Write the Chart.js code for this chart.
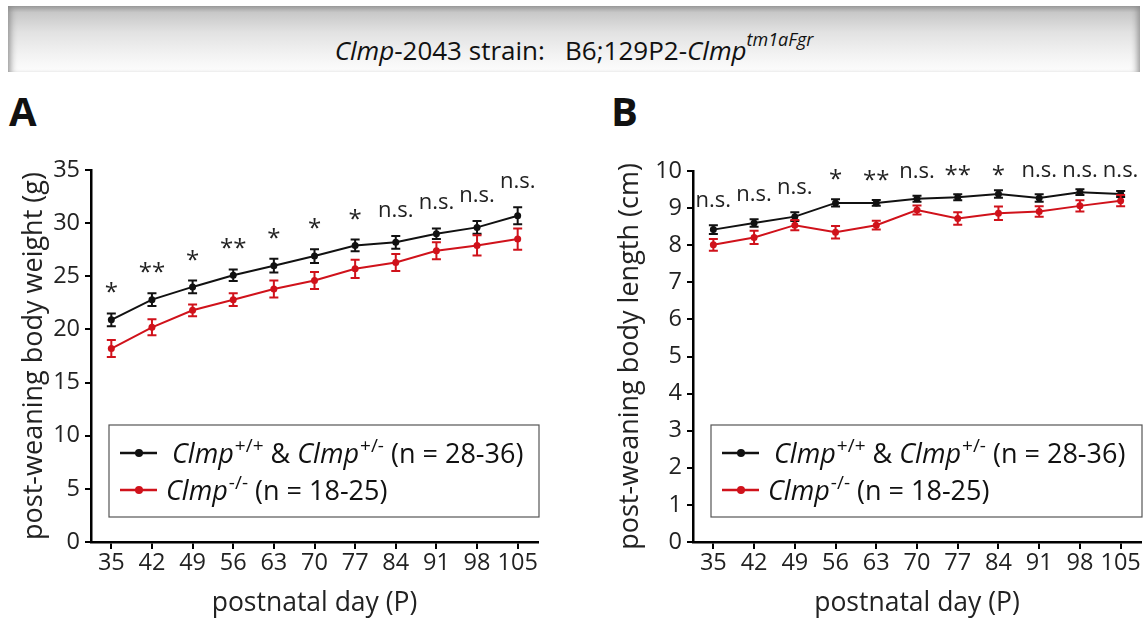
<!DOCTYPE html>
<html>
<head>
<meta charset="utf-8">
<script src="https://cdn.jsdelivr.net/npm/chart.js@4.4.1/dist/chart.umd.min.js"></script>
<style>
html,body{margin:0;padding:0;background:#fff;}
body{width:1148px;height:619px;position:relative;overflow:hidden;font-family:'Open Sans',sans-serif;color:#111;}
#hdr{position:absolute;left:8px;top:6px;width:1132px;height:66px;
 background:linear-gradient(to bottom,#9c9c9c 0%,#c8c8c8 10%,#e2e2e2 40%,#f3f3f3 75%,#fdfdfd 100%);
 box-shadow: inset 7px 0 7px -5px #8a8a8a, inset -7px 0 7px -5px #8a8a8a;}
#hdr .t{position:absolute;left:0;right:0;top:22px;text-align:center;font-size:26px;line-height:30px;}
#hdr sup{font-size:18px;position:relative;top:-4px;}
.panel{position:absolute;top:0;width:574px;height:619px;}
.letter{position:absolute;font-weight:bold;font-size:40px;line-height:40px;color:#111;}
</style>
</head>
<body>
<div id="hdr"><div class="t"><i>Clmp</i>-2043 strain:&nbsp;&nbsp; B6;129P2-<i>Clmp<sup>tm1aFgr</sup></i></div></div>
<div class="letter" style="left:9px;top:91px;">A</div>
<div class="letter" style="left:611px;top:91px;">B</div>
<div class="panel" style="left:0;"><canvas id="cA" width="574" height="619"></canvas></div>
<div class="panel" style="left:574px;"><canvas id="cB" width="574" height="619"></canvas></div>
<script>
// ---- data ----
const days = ['35','42','49','56','63','70','77','84','91','98','105'];
const weightCtrl    = [20.9, 22.8, 24.0, 25.1, 26.0, 26.9, 27.9, 28.2, 29.0, 29.6, 30.7];
const weightCtrlErr = [0.6, 0.6, 0.6, 0.55, 0.65, 0.65, 0.55, 0.6, 0.5, 0.6, 0.8];
const weightKO      = [18.2, 20.2, 21.8, 22.8, 23.8, 24.6, 25.7, 26.3, 27.4, 27.9, 28.5];
const weightKOErr   = [0.8, 0.75, 0.55, 0.6, 0.8, 0.8, 0.85, 0.8, 0.8, 0.95, 1.0];
const lengthCtrl    = [8.42, 8.6, 8.77, 9.14, 9.14, 9.25, 9.29, 9.38, 9.27, 9.43, 9.38];
const lengthCtrlErr = [0.12, 0.1, 0.12, 0.1, 0.08, 0.08, 0.08, 0.1, 0.1, 0.08, 0.08];
const lengthKO      = [8.01, 8.21, 8.54, 8.35, 8.54, 8.95, 8.72, 8.86, 8.91, 9.06, 9.2];
const lengthKOErr   = [0.16, 0.18, 0.14, 0.17, 0.12, 0.12, 0.17, 0.18, 0.14, 0.15, 0.15];
const sigWeight = ['*','**','*','**','*','*','*','n.s.','n.s.','n.s.','n.s.'];
const sigLength = ['n.s.','n.s.','n.s.','*','**','n.s.','**','*','n.s.','n.s.','n.s.'];
const legendCtrl = [{t:'Clmp',i:1},{t:'+/+',s:1},{t:' & '},{t:'Clmp',i:1},{t:'+/-',s:1},{t:' (n = 28-36)'}];
const legendKO   = [{t:'Clmp',i:1},{t:'-/-',s:1},{t:' (n = 18-25)'}];
const colCtrl = '#111111';
const colKO = '#d0121b';

const FONT = "'Open Sans', sans-serif";

function drawRich(ctx, segs, x, y, size, supSize){
  ctx.textBaseline = 'alphabetic'; ctx.textAlign = 'left';
  segs.forEach(s => {
    ctx.font = (s.i?'italic ':'') + (s.s?supSize:size) + 'px ' + FONT;
    ctx.fillText(s.t, x, s.s ? y - 11 : y);
    x += ctx.measureText(s.t).width + (s.i ? 1 : 0);
  });
}

const errPlugin = {
  id: 'errbars',
  afterDatasetsDraw(chart){
    const ctx = chart.ctx, y = chart.scales.y;
    chart.data.datasets.forEach((ds, di) => {
      const meta = chart.getDatasetMeta(di);
      ctx.save();
      ctx.strokeStyle = ds.borderColor; ctx.lineWidth = 2;
      ds.data.forEach((v, i) => {
        const e = ds.errors[i], x = meta.data[i].x;
        const t = y.getPixelForValue(v + e), b = y.getPixelForValue(v - e);
        ctx.beginPath();
        ctx.moveTo(x, t); ctx.lineTo(x, b);
        ctx.moveTo(x - 4.5, t); ctx.lineTo(x + 4.5, t);
        ctx.moveTo(x - 4.5, b); ctx.lineTo(x + 4.5, b);
        ctx.stroke();
      });
      ctx.restore();
    });
  }
};

const sigPlugin = {
  id: 'sig',
  afterDraw(chart, args, opts){
    const ctx = chart.ctx, y = chart.scales.y, area = chart.chartArea;
    const ds = chart.data.datasets;
    ctx.save();
    ctx.fillStyle = '#222'; ctx.textAlign = 'center'; ctx.textBaseline = 'alphabetic';
    opts.labels.forEach((lab, i) => {
      let top = Infinity;
      ds.forEach(d => { top = Math.min(top, y.getPixelForValue(d.data[i] + d.errors[i])); });
      const x = chart.getDatasetMeta(0).data[i].x;
      let base = top - opts.gap;
      if (opts.clamp !== null) base = Math.max(base, area.top + opts.clamp);
      if (lab.indexOf('*') >= 0) { ctx.font = '24px ' + FONT; ctx.fillText(lab, x, base + 6); }
      else { ctx.font = '22px ' + FONT; ctx.fillText(lab, x, base); }
    });
    ctx.restore();
  }
};

const legendPlugin = {
  id: 'richLegend',
  afterDraw(chart, args, opts){
    const ctx = chart.ctx, area = chart.chartArea, ds = chart.data.datasets;
    const L = area.left + opts.left, R = area.right + opts.right;
    ctx.save();
    ctx.strokeStyle = '#555'; ctx.lineWidth = 1.2;
    ctx.strokeRect(L, opts.top, R - L, opts.bottom - opts.top);
    ds.forEach((d, k) => {
      const yy = opts.rows[k];
      ctx.strokeStyle = d.borderColor; ctx.lineWidth = 2.5;
      ctx.beginPath(); ctx.moveTo(L + 11, yy); ctx.lineTo(L + 48, yy); ctx.stroke();
      ctx.fillStyle = d.borderColor;
      ctx.beginPath(); ctx.arc(L + 30, yy, 4, 0, Math.PI * 2); ctx.fill();
      ctx.fillStyle = '#111';
      drawRich(ctx, d.rich, L + opts.textX[k], yy + 10, 27, 19);
    });
    ctx.restore();
  }
};

function makeChart(id, ctrl, ctrlErr, ko, koErr, ymax, step, ytitle, sig, cfg){
  return new Chart(document.getElementById(id), {
    type: 'line',
    data: {
      labels: days,
      datasets: [
        {label:'ctrl', data: ctrl, errors: ctrlErr, rich: legendCtrl, borderColor: colCtrl, backgroundColor: colCtrl,
         borderWidth: 2, pointRadius: 3.5, pointBackgroundColor: colCtrl, pointBorderWidth: 0, tension: 0},
        {label:'ko', data: ko, errors: koErr, rich: legendKO, borderColor: colKO, backgroundColor: colKO,
         borderWidth: 2, pointRadius: 3.5, pointBackgroundColor: colKO, pointBorderWidth: 0, tension: 0}
      ]
    },
    options: {
      responsive: false, animation: false,
      layout: { padding: { top: cfg.top, right: cfg.right, left: 0, bottom: 0 } },
      plugins: {
        legend: { display: false }, tooltip: { enabled: false },
        sig: { labels: sig, gap: cfg.gap, clamp: cfg.clamp },
        richLegend: cfg.legend
      },
      scales: {
        x: {
          type: 'category', offset: true,
          afterFit: s => { s.height = 619 - cfg.bottomY; },
          border: { display: true, color: '#000', width: 2.5 },
          grid: { display: true, drawOnChartArea: false, drawTicks: true, tickLength: 7, color: '#000', lineWidth: 2 },
          ticks: { color: '#222', font: { family: FONT, size: 23.5 }, padding: 0, maxRotation: 0, autoSkip: false },
          title: { display: true, text: 'postnatal day (P)', color: '#222', font: { family: FONT, size: 26.5 }, padding: { top: 0, bottom: 0 } }
        },
        y: {
          min: 0, max: ymax,
          afterFit: s => { s.width = cfg.axisX; },
          border: { display: true, color: '#000', width: 2.5 },
          grid: { display: true, drawOnChartArea: false, drawTicks: true, tickLength: 6, color: '#000', lineWidth: 2 },
          ticks: { stepSize: step, color: '#222', font: { family: FONT, size: 23.5 }, padding: 5 },
          title: { display: true, text: ytitle, color: '#222', font: { family: FONT, size: 27 }, padding: { top: cfg.ytPad, bottom: 0 } }
        }
      }
    },
    plugins: [errPlugin, sigPlugin, legendPlugin]
  });
}

makeChart('cA', weightCtrl, weightCtrlErr, weightKO, weightKOErr, 35, 5, 'post-weaning body weight (g)', sigWeight,
  { top: 170, right: 574 - 538, bottomY: 542, axisX: 91, ytPad: 18, gap: 19, clamp: null,
    legend: { left: 18, right: 1, top: 425, bottom: 517, rows: [453, 490], textX: [63, 57] } });
makeChart('cB', lengthCtrl, lengthCtrlErr, lengthKO, lengthKOErr, 10, 1, 'post-weaning body length (cm)', sigLength,
  { top: 171, right: 574 - 567, bottomY: 542, axisX: 693 - 574, ytPad: 40, gap: 18, clamp: 6,
    legend: { left: 18, right: 1, top: 425, bottom: 517, rows: [453, 490], textX: [63, 57] } });
</script>
</body>
</html>
